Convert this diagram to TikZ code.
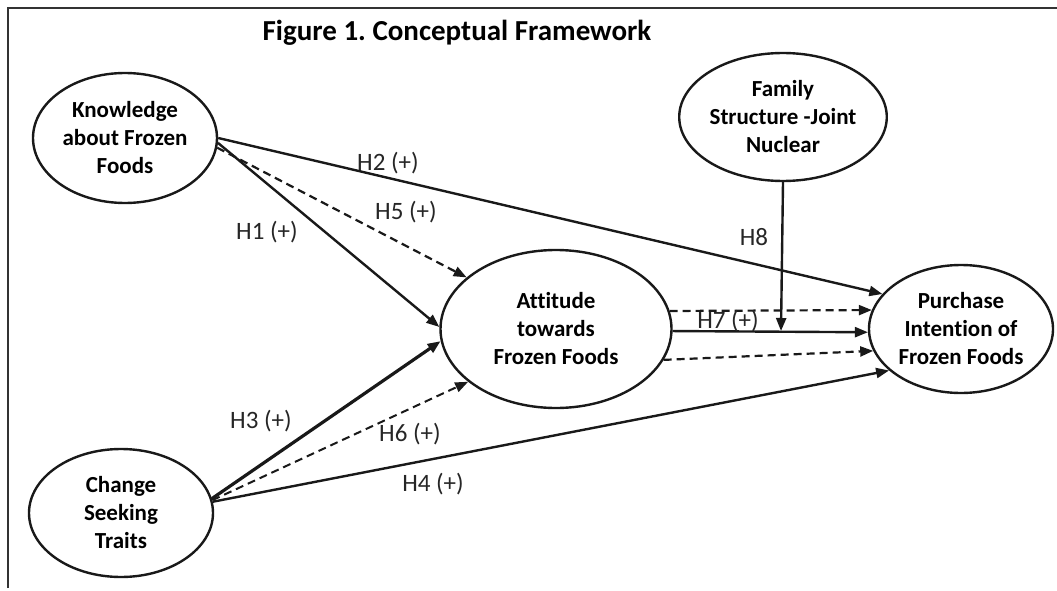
\documentclass[tikz,border=0pt]{standalone}
\usepackage{fontspec}
\setmainfont{Carlito}[Ligatures={NoCommon}]
\usetikzlibrary{shapes.geometric,arrows.meta}
\begin{document}
\frenchspacing
\begin{tikzpicture}[x=1pt,y=-1pt,
  construct/.style={ellipse,draw=black!90,line width=2.4pt,align=center,inner sep=0pt,
    font=\bfseries\fontsize{23}{28}\selectfont},
  lbl/.style={font=\fontsize{25}{28}\selectfont,text=black!85},
  link/.style={line width=2.4pt,draw=black!90,-{Triangle[length=13pt,width=10pt]}},
  dlink/.style={link,line width=2.2pt,dash pattern=on 8pt off 5pt},
  frame/.style={line width=2.8pt,draw=black!80}]
\useasboundingbox (0,0) rectangle (1057,591);
\draw[frame] (8,588) -- (8,8) -- (1057,8);
\node[font=\bfseries\fontsize{29}{32}\selectfont] (title) at (457,33) {Figure 1. Conceptual Framework};

\node[construct,minimum width=184pt,minimum height=130pt] (K) at (125,138) {Knowledge\\about Frozen\\Foods};
\node[construct,minimum width=184pt,minimum height=128pt] (F) at (783,117) {Family\\Structure -Joint\\Nuclear};
\node[construct,minimum width=231pt,minimum height=158pt] (A) at (556,329) {Attitude\\towards\\Frozen Foods};
\node[construct,minimum width=184pt,minimum height=128pt] (P) at (961,329) {Purchase\\Intention of\\Frozen Foods};
\node[construct,minimum width=184pt,minimum height=128pt] (C) at (121,513) {Change\\Seeking\\Traits};

\coordinate (m) at (781,331);

\draw[link] (K.0) -- (P.156);
\draw[link] (K.-3) -- (A.179);
\draw[dlink] (K.-6) -- (A.150);
\draw[link,line width=3.2pt] (C.9) -- (A.186);
\draw[dlink,line width=2pt] (C.8) -- (A.211);
\draw[link] (C.7) -- (P.210);
\draw[link] (F.south) -- (m);
\draw[link] (A.-1) -- (P.182);
\draw[dlink] (A.9) -- (P.168);
\draw[dlink] (A.-16) -- (P.194);

\node[lbl] (h2) at (388,163) {H2 (+)};
\node[lbl] (h5) at (406,212) {H5 (+)};
\node[lbl] (h1) at (267,232) {H1 (+)};
\node[lbl] (h8) at (754,237) {H8};
\node[lbl] (h7) at (728,321) {H7 (+)};
\node[lbl] (h3) at (261,421) {H3 (+)};
\node[lbl] (h6) at (410,434) {H6 (+)};
\node[lbl] (h4) at (433,484) {H4 (+)};
\end{tikzpicture}
\end{document}
